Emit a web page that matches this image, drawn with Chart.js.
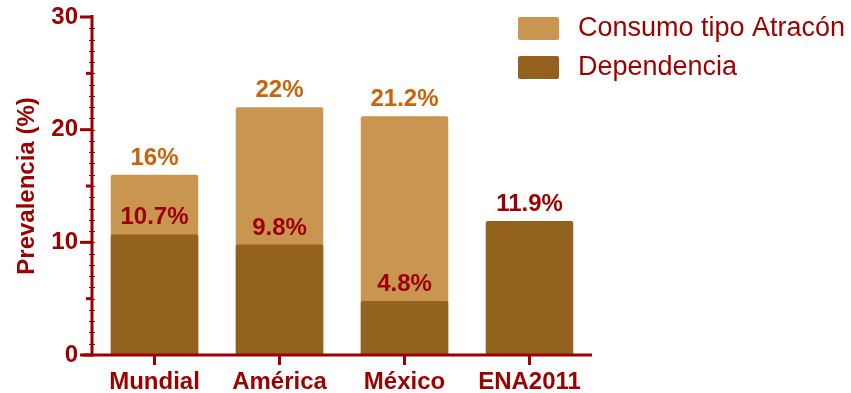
<!DOCTYPE html>
<html>
<head>
<meta charset="utf-8">
<script src="https://cdn.jsdelivr.net/npm/chart.js@4"></script>
<style>
  html, body { margin: 0; padding: 0; background: #fff; }
  #wrap { width: 851px; height: 393px; }
</style>
</head>
<body>
<div id="wrap"><canvas id="chart" width="851" height="393"></canvas></div>
<script>
// Datos de prevalencia
const categorias = ['Mundial', 'América', 'México', 'ENA2011'];
const atracon = [16, 22, 21.2, null];
const dependencia = [10.7, 9.8, 4.8, 11.9];
const yTicks = [0, 10, 20, 30];

const ROJO = '#9c0000';
const NARANJA = '#c8640a';
const CLARO = '#c89650';
const OSCURO = '#94621f';
const FUENTE = '"Liberation Sans", Arial, sans-serif';

// Ejes, marcas, etiquetas de valor y leyenda dibujados a mano
const extras = {
    id: 'extras',
    afterDatasetsDraw(chart) {
        const ctx = chart.ctx;
        const x = chart.scales.x, y = chart.scales.y;
        const area = chart.chartArea;
        const x0 = area.left, y0 = y.getPixelForValue(0);

        ctx.save();
        ctx.strokeStyle = ROJO;
        ctx.lineCap = 'butt';

        // eje Y
        ctx.lineWidth = 3;
        ctx.beginPath();
        ctx.moveTo(x0, y.getPixelForValue(30) - 2);
        ctx.lineTo(x0, y0 + 1.5);
        ctx.stroke();
        // eje X
        ctx.beginPath();
        ctx.moveTo(x0 - 9, y0);
        ctx.lineTo(area.right, y0);
        ctx.stroke();

        // marcas mayores y medias del eje Y
        yTicks.forEach(v => {
            const py = y.getPixelForValue(v);
            ctx.beginPath();
            ctx.moveTo(x0 - 12, py);
            ctx.lineTo(x0, py);
            ctx.stroke();
        });
        [5, 15, 25].forEach(v => {
            const py = y.getPixelForValue(v);
            ctx.beginPath();
            ctx.moveTo(x0 - 6, py);
            ctx.lineTo(x0, py);
            ctx.stroke();
        });
        // marcas menores cada unidad
        ctx.lineWidth = 1;
        for (let v = 1; v < 30; v++) {
            const py = Math.round(y.getPixelForValue(v)) + 0.5;
            ctx.beginPath();
            ctx.moveTo(x0 - 3, py);
            ctx.lineTo(x0 + 3, py);
            ctx.stroke();
        }
        // marcas del eje X
        ctx.lineWidth = 3;
        categorias.forEach((c, i) => {
            const px = x.getPixelForValue(i);
            ctx.beginPath();
            ctx.moveTo(px, y0);
            ctx.lineTo(px, y0 + 10);
            ctx.stroke();
        });

        // etiquetas de valor sobre cada barra
        ctx.font = 'bold 24px ' + FUENTE;
        ctx.textAlign = 'center';
        ctx.textBaseline = 'alphabetic';
        chart.data.datasets.forEach((ds, di) => {
            const meta = chart.getDatasetMeta(di);
            ds.data.forEach((v, i) => {
                if (v === null) return;
                const bar = meta.data[i];
                ctx.fillStyle = ds.labelColor;
                ctx.fillText(v + '%', bar.x, bar.y - 10);
            });
        });

        // leyenda
        ctx.font = '27px ' + FUENTE;
        ctx.textAlign = 'left';
        ctx.textBaseline = 'middle';
        chart.data.datasets.forEach((ds, di) => {
            const by = 17 + di * 39;
            ctx.fillStyle = ds.backgroundColor;
            ctx.beginPath();
            ctx.roundRect(518, by, 41, 23, 2);
            ctx.fill();
            ctx.fillStyle = ROJO;
            ctx.fillText(ds.label, 578, by + 12);
        });
        ctx.restore();
    }
};

new Chart(document.getElementById('chart'), {
    type: 'bar',
    data: {
        labels: categorias,
        datasets: [
            {
                label: 'Consumo tipo Atracón',
                data: atracon,
                backgroundColor: CLARO,
                labelColor: NARANJA,
                borderRadius: 2,
                borderSkipped: 'bottom',
                order: 2
            },
            {
                label: 'Dependencia',
                data: dependencia,
                backgroundColor: OSCURO,
                labelColor: ROJO,
                borderRadius: 2,
                borderSkipped: 'bottom',
                order: 1
            }
        ]
    },
    options: {
        responsive: false,
        animation: false,
        layout: { padding: { top: 17, right: 259, left: 0, bottom: 0 } },
        datasets: {
            bar: { grouped: false, categoryPercentage: 1, barPercentage: 0.7 }
        },
        plugins: {
            legend: { display: false },
            tooltip: { enabled: false }
        },
        scales: {
            x: {
                grid: { display: false, drawTicks: false },
                border: { display: false },
                ticks: {
                    color: ROJO,
                    font: { family: FUENTE, size: 24, weight: 'bold' },
                    padding: 13,
                    maxRotation: 0
                },
                afterFit(scale) { scale.height = 38; }
            },
            y: {
                min: 0,
                max: 30,
                grid: { display: false, drawTicks: false },
                border: { display: false },
                afterBuildTicks(scale) { scale.ticks = yTicks.map(v => ({ value: v })); },
                ticks: {
                    color: ROJO,
                    font: { family: FUENTE, size: 24, weight: 'bold' },
                    padding: 14
                },
                title: {
                    display: true,
                    text: 'Prevalencia (%)',
                    color: ROJO,
                    font: { family: FUENTE, size: 24, weight: 'bold' },
                    padding: { top: 13, bottom: 0 }
                },
                afterFit(scale) {
                    scale.width = 92;
                    scale.paddingTop = 0;
                    scale.paddingBottom = 0;
                }
            }
        }
    },
    plugins: [extras]
});
</script>
</body>
</html>
